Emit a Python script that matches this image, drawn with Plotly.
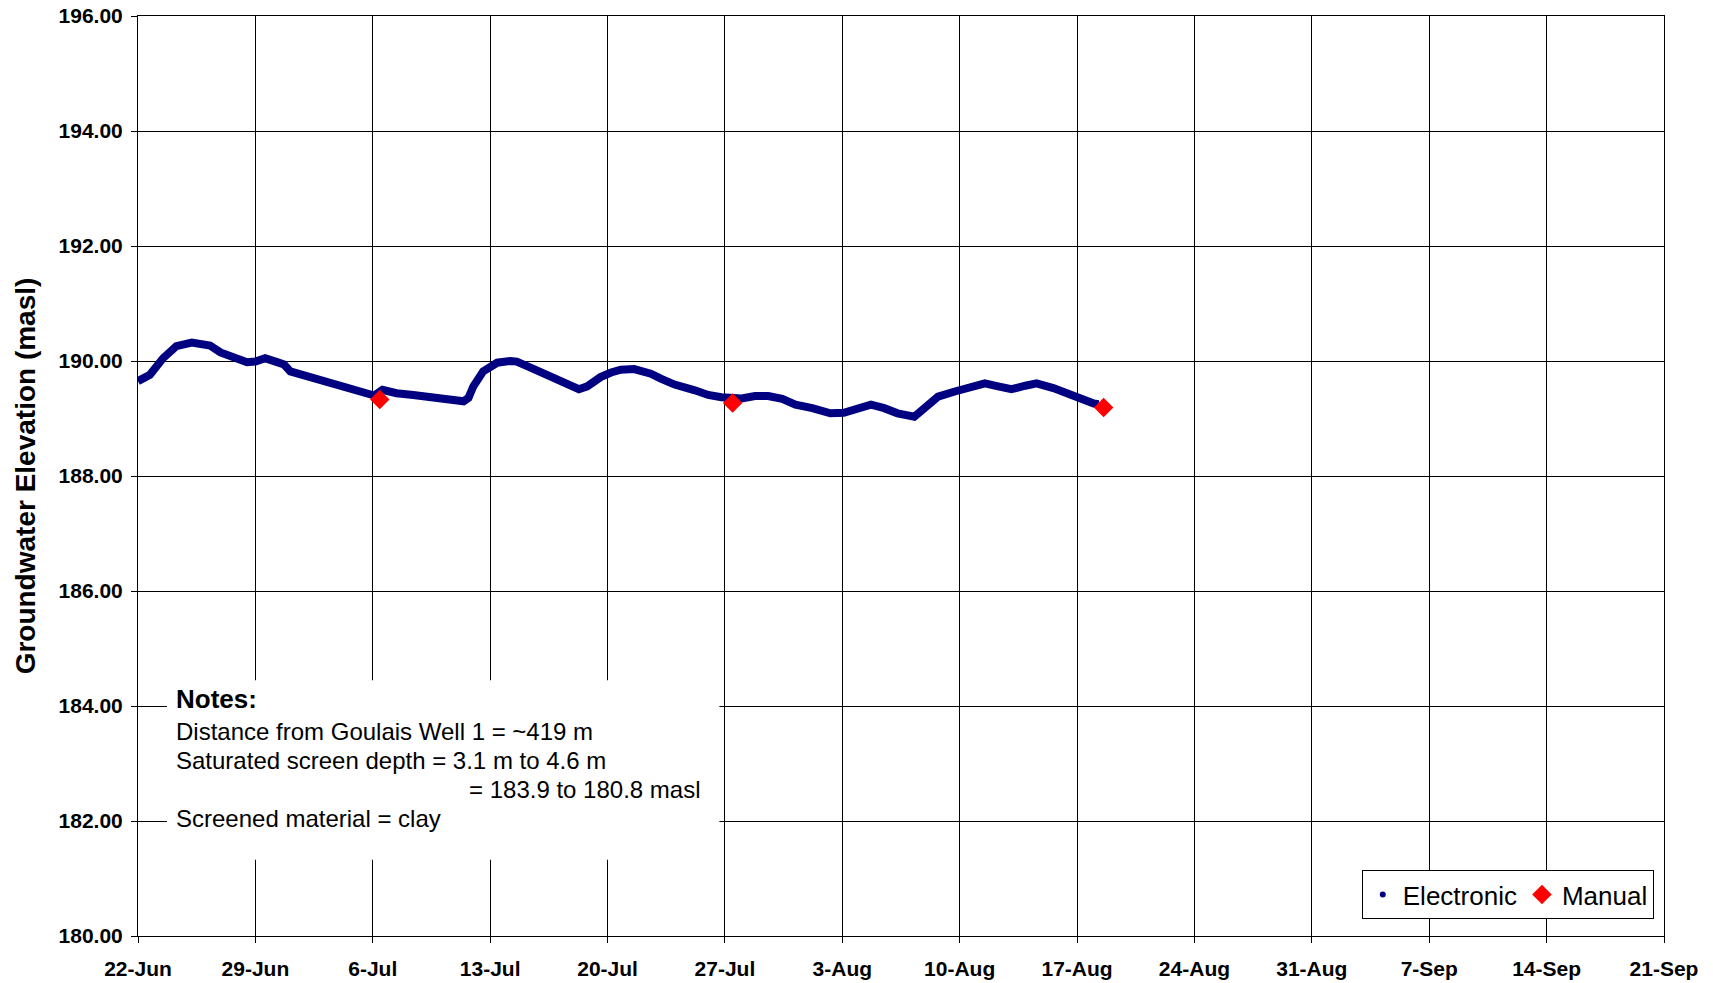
import plotly.graph_objects as go

# electronic logger readings
elec_time = [
    "2007-06-22 00:00", "2007-06-22 17:00", "2007-06-23 12:00", "2007-06-24 07:00",
    "2007-06-25 05:00", "2007-06-25 17:00", "2007-06-26 07:00", "2007-06-26 22:00",
    "2007-06-27 14:00", "2007-06-28 12:00", "2007-06-29 00:00", "2007-06-29 14:00",
    "2007-06-30 07:00", "2007-06-30 17:00", "2007-07-01 02:00", "2007-07-02 02:00",
    "2007-07-02 22:00", "2007-07-03 12:00", "2007-07-04 02:00", "2007-07-04 22:00",
    "2007-07-05 14:00", "2007-07-06 02:00", "2007-07-06 14:00", "2007-07-07 10:00",
    "2007-07-08 10:00", "2007-07-09 10:00", "2007-07-10 10:00", "2007-07-11 10:00",
    "2007-07-11 17:00", "2007-07-12 00:00", "2007-07-12 14:00", "2007-07-13 10:00",
    "2007-07-14 05:00", "2007-07-14 14:00", "2007-07-15 05:00", "2007-07-16 05:00",
    "2007-07-16 19:00", "2007-07-17 14:00", "2007-07-18 07:00", "2007-07-18 19:00",
    "2007-07-19 14:00", "2007-07-20 05:00", "2007-07-20 19:00", "2007-07-21 14:00",
    "2007-07-22 14:00", "2007-07-23 05:00", "2007-07-24 00:00", "2007-07-25 05:00",
    "2007-07-26 00:00", "2007-07-26 19:00", "2007-07-27 12:00", "2007-07-28 00:00",
    "2007-07-28 19:00", "2007-07-29 14:00", "2007-07-30 10:00", "2007-07-31 05:00",
    "2007-08-01 05:00", "2007-08-02 07:00", "2007-08-03 02:00", "2007-08-03 22:00",
    "2007-08-04 17:00", "2007-08-05 12:00", "2007-08-06 07:00", "2007-08-07 07:00",
    "2007-08-07 22:00", "2007-08-08 17:00", "2007-08-09 17:00", "2007-08-10 17:00",
    "2007-08-11 12:00", "2007-08-12 07:00", "2007-08-13 02:00", "2007-08-13 22:00",
    "2007-08-14 14:00", "2007-08-15 14:00", "2007-08-16 10:00", "2007-08-17 05:00",
    "2007-08-18 00:00", "2007-08-18 07:00",
]
elec_level = [
    189.65, 189.76, 190.05, 190.26, 190.32, 190.31, 190.27, 190.15,
    190.09, 189.98, 189.99, 190.05, 189.98, 189.94, 189.82, 189.73,
    189.68, 189.63, 189.56, 189.49, 189.41, 189.40, 189.50, 189.44,
    189.41, 189.37, 189.33, 189.30, 189.36, 189.56, 189.82, 189.97,
    190.00, 189.99, 189.91, 189.78, 189.73, 189.63, 189.51, 189.56,
    189.72, 189.80, 189.85, 189.86, 189.78, 189.69, 189.59, 189.49,
    189.41, 189.37, 189.36, 189.35, 189.39, 189.39, 189.34, 189.24,
    189.18, 189.09, 189.10, 189.18, 189.24, 189.18, 189.09, 189.03,
    189.19, 189.38, 189.47, 189.56, 189.61, 189.56, 189.51, 189.57,
    189.61, 189.53, 189.43, 189.32, 189.26, 189.25,
]

# manual measurements
manual_time = ["2007-07-06 10:00", "2007-07-27 11:00", "2007-08-18 14:00"]
manual_level = [189.33, 189.27, 189.19]

notes = [
    "Distance from Goulais Well 1 = ~419 m",
    "Saturated screen depth = 3.1 m to 4.6 m",
    "= 183.9 to 180.8 masl",
    "Screened material = clay",
]

FONT = "Liberation Sans, Arial, sans-serif"
NAVY = "#000080"

fig = go.Figure()
fig.add_trace(go.Scatter(x=elec_time, y=elec_level, mode="lines",
                         line=dict(color=NAVY, width=8), showlegend=False,
                         hoverinfo="x+y"))
# legend entry for the logger series (small dot, like the original)
fig.add_trace(go.Scatter(x=[None], y=[None], mode="markers", name="Electronic",
                         marker=dict(color=NAVY, size=6)))
fig.add_trace(go.Scatter(x=manual_time, y=manual_level, mode="markers", name="Manual",
                         marker=dict(color="#ff0000", symbol="diamond", size=15)))

axis_common = dict(showgrid=True, gridcolor="#000000", gridwidth=1,
                   showline=True, linecolor="#000000", linewidth=1, mirror=True,
                   ticks="outside", ticklen=6, tickcolor="#000000",
                   tickfont=dict(family=FONT, size=21, color="#000000", weight="bold"),
                   zeroline=False, automargin=False)

fig.update_xaxes(type="date", range=["2007-06-22", "2007-09-21"],
                 tick0="2007-06-22", dtick=7 * 86400000, tickformat="%-d-%b",
                 ticklabelstandoff=8, **axis_common)
fig.update_yaxes(range=[180, 196], dtick=2, tickformat=".2f",
                 ticklabelstandoff=4,
                 title=dict(text="Groundwater Elevation (masl)", standoff=14,
                            font=dict(family=FONT, size=28, color="#000000", weight="bold")),
                 **axis_common)

# notes box
fig.add_shape(type="rect", xref="paper", yref="paper", x0=0.019, x1=0.381,
              y0=0.083, y1=0.278, fillcolor="white", line=dict(width=0), layer="above")
fig.add_annotation(text="<b>Notes:</b>", xref="paper", yref="paper", x=0.0236, y=0.2576,
                   xanchor="left", yanchor="middle", showarrow=False,
                   font=dict(family=FONT, size=26, color="#000000"))
note_x = [0.0236, 0.0236, 0.2153, 0.0236]
note_y = [0.2228, 0.1913, 0.1587, 0.1272]
for t, nx, ny in zip(notes, note_x, note_y):
    fig.add_annotation(text=t, xref="paper", yref="paper", x=nx, y=ny,
                       xanchor="left", yanchor="middle", showarrow=False,
                       font=dict(family=FONT, size=24, color="#000000"))

fig.update_layout(
    width=1713, height=983,
    margin=dict(l=138, r=49, t=16, b=47, autoexpand=False),
    plot_bgcolor="white", paper_bgcolor="white",
    font=dict(family=FONT, color="#000000"),
    legend=dict(orientation="h", x=0.9933, y=0.0185, xanchor="right", yanchor="bottom",
                bgcolor="white", bordercolor="#000000", borderwidth=1,
                font=dict(family=FONT, size=26, color="#000000"),
                itemwidth=30, tracegroupgap=0),
)

# drop the default page margin so the figure sits at the window's corner
fig.write_html("out.html", config={"displayModeBar": False},
               post_script="document.body.style.margin='0';")
